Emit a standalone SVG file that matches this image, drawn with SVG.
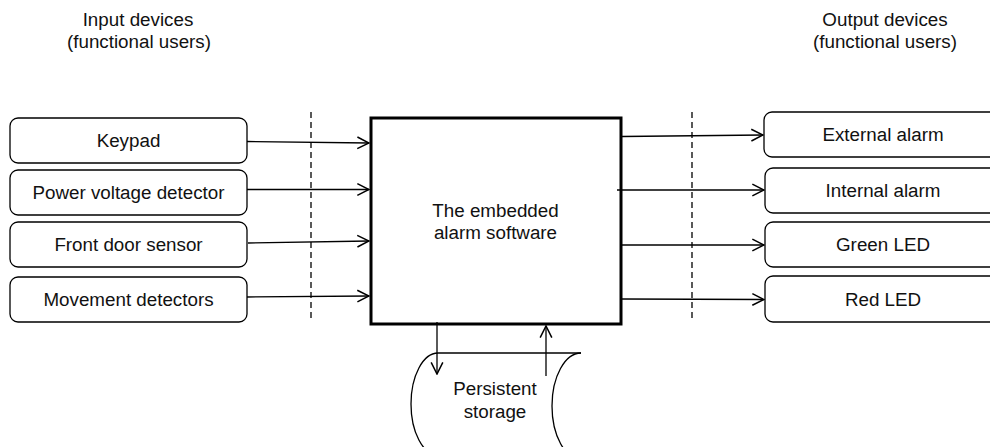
<svg xmlns="http://www.w3.org/2000/svg" width="990" height="447" viewBox="0 0 990 447">
<style>
text{font-family:"Liberation Sans",Arial,sans-serif;font-size:18.8px;fill:#111;text-anchor:middle}
.box{fill:#fff;stroke:#000;stroke-width:1.3}
.main{fill:#fff;stroke:#000;stroke-width:3}
.dash{stroke:#000;stroke-width:1.3;stroke-dasharray:6 4;fill:none}
.conn{stroke:#000;stroke-width:1.3;fill:none;marker-end:url(#arr)}
.edge{fill:none;stroke:#000;stroke-width:1.3}
</style>
<defs>
<marker id="arr" markerUnits="userSpaceOnUse" markerWidth="14" markerHeight="14" viewBox="0 0 12 12" refX="11" refY="6" orient="auto">
<path d="M1,1 L11,6 L1,11" fill="none" stroke="#000" stroke-width="1.3"/>
</marker>
</defs>
<rect width="990" height="447" fill="#fff"/>
<g id="titles">
<text x="138" y="26">Input devices</text>
<text x="139" y="48">(functional users)</text>
<text x="885" y="26">Output devices</text>
<text x="885" y="48">(functional users)</text>
</g>
<g id="boundaries">
<line class="dash" x1="311" y1="112" x2="311" y2="321"/>
<line class="dash" x1="692" y1="112" x2="692" y2="321"/>
</g>
<g id="storage">
<line class="edge" x1="438" y1="353" x2="581" y2="353"/>
<path class="edge" d="M438,353 A27,51 0 0 0 438,455"/>
<path class="edge" d="M581,353 A29,53 0 0 0 581,459"/>
<text x="495" y="395">Persistent</text>
<text x="495" y="418">storage</text>
</g>
<g id="keypad"><rect class="box" x="10" y="118" width="237" height="45" rx="8"/><text x="128.5" y="147">Keypad</text></g>
<g id="power"><rect class="box" x="10" y="170" width="237" height="45" rx="8"/><text x="128.5" y="199">Power voltage detector</text></g>
<g id="frontdoor"><rect class="box" x="10" y="222" width="237" height="45" rx="8"/><text x="128.5" y="251">Front door sensor</text></g>
<g id="movement"><rect class="box" x="10" y="277" width="237" height="45" rx="8"/><text x="128.5" y="306">Movement detectors</text></g>
<g id="software"><rect class="main" x="371" y="118" width="250" height="206"/><text x="495.5" y="217">The embedded</text><text x="495.5" y="239">alarm software</text></g>
<g id="external"><rect class="box" x="764" y="112" width="240" height="45" rx="8"/><text x="883" y="141">External alarm</text></g>
<g id="internal"><rect class="box" x="765" y="168" width="240" height="45" rx="8"/><text x="883" y="197">Internal alarm</text></g>
<g id="green"><rect class="box" x="765" y="222" width="240" height="45" rx="8"/><text x="883" y="251">Green LED</text></g>
<g id="red"><rect class="box" x="765" y="276" width="240" height="46" rx="8"/><text x="883" y="306">Red LED</text></g>
<g id="connectors">
<line class="conn" x1="247" y1="141.5" x2="369" y2="143"/>
<line class="conn" x1="247" y1="189.5" x2="369" y2="189.5"/>
<line class="conn" x1="248" y1="243" x2="369" y2="241"/>
<line class="conn" x1="247" y1="297" x2="369" y2="296"/>
<line class="conn" x1="622" y1="136.5" x2="763" y2="135"/>
<line class="conn" x1="617" y1="190" x2="764" y2="190"/>
<line class="conn" x1="622" y1="245" x2="764" y2="245"/>
<line class="conn" x1="622" y1="299" x2="764" y2="299.5"/>
<line class="conn" x1="437" y1="322" x2="437" y2="374"/>
<line class="conn" x1="546" y1="376" x2="546" y2="326"/>
</g>
</svg>
